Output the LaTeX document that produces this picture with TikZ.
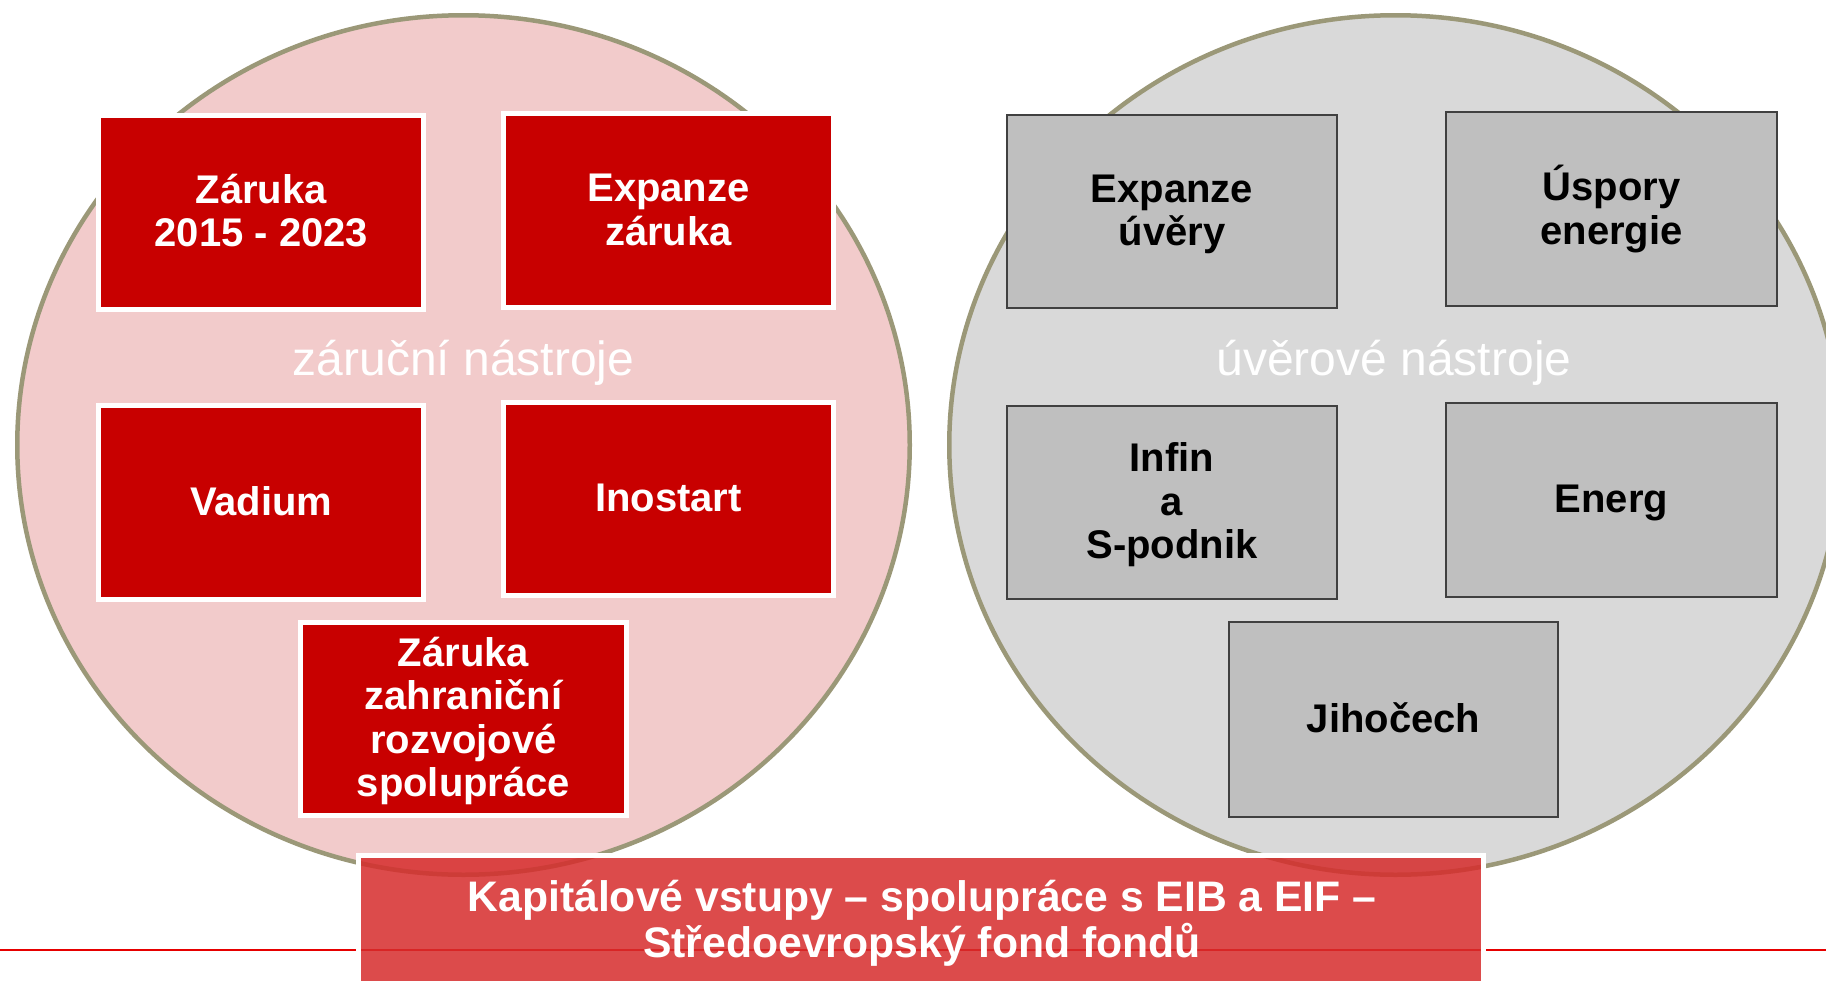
\documentclass[tikz,border=0pt]{standalone}
\usepackage{fontspec}
\setmainfont{Liberation Sans}
\usetikzlibrary{shapes.geometric}
\definecolor{circstroke}{RGB}{155,152,120}
\definecolor{pinkfill}{RGB}{242,203,203}
\definecolor{grayfill}{RGB}{217,217,217}
\definecolor{boxred}{RGB}{200,0,0}
\definecolor{boxgray}{RGB}{191,191,191}
\definecolor{boxedge}{RGB}{64,64,64}
\definecolor{barred}{RGB}{214,44,44}
\definecolor{linered}{RGB}{230,0,0}
\newcommand{\mystrut}{\rule[-0.2em]{0pt}{1.04em}}
\begin{document}
\begin{tikzpicture}[x=1pt,y=-1pt,
  groupcircle/.style={ellipse, draw=circstroke, line width=4.5pt, minimum width=892.5pt, minimum height=859.5pt, inner sep=0pt},
  redbox/.style={rectangle, draw=white, line width=5pt, fill=boxred, text=white, inner sep=0pt, align=center, font=\fontsize{40}{43.4}\selectfont\bfseries},
  graybox/.style={rectangle, draw=boxedge, line width=2.5pt, fill=boxgray, text=black, inner sep=0pt, align=center, font=\fontsize{40}{43.4}\selectfont\bfseries},
  grouplabel/.style={text=white, inner sep=0pt, anchor=base, font=\fontsize{48}{52}\selectfont},
  barbox/.style={rectangle, draw=white, line width=5pt, fill=barred, fill opacity=0.85, draw opacity=1, inner sep=0pt},
  bartext/.style={text=white, inner sep=0pt, align=center, font=\fontsize{42.7}{44.5}\selectfont\bfseries}
]
\useasboundingbox (0,0) rectangle (1826,980);
\clip (0,0) rectangle (1826,980);
\fill[white] (0,0) rectangle (1826,980);

% group circles
\node[groupcircle, fill=pinkfill] (leftcircle) at (463.5,445) {};
\node[groupcircle, fill=grayfill] (rightcircle) at (1395.5,445) {};

% group labels
\node[grouplabel] (leftlabel) at (463.5,375) {záruční nástroje};
\node[grouplabel] (rightlabel) at (1394,375) {úvěrové nástroje};

% guarantee instruments
\node[redbox, minimum width=325pt, minimum height=194pt] (zaruka) at (261.3,212.2) {\mystrut Záruka\\\mystrut 2015 - 2023};
\node[redbox, minimum width=330pt, minimum height=194pt] (expzaruka) at (668.5,210.5) {\mystrut Expanze\\\mystrut záruka};
\node[redbox, minimum width=325pt, minimum height=194pt] (vadium) at (261.3,502.5) {\mystrut Vadium};
\node[redbox, minimum width=330pt, minimum height=193pt] (inostart) at (668.5,499) {\mystrut Inostart};
\node[redbox, minimum width=326pt, minimum height=193pt] (zahranicni) at (463.5,719) {\mystrut Záruka\\\mystrut zahraniční\\\mystrut rozvojové\\\mystrut spolupráce};

% loan instruments
\node[graybox, minimum width=330pt, minimum height=193pt] (expuvery) at (1172,211.5) {\mystrut Expanze\\\mystrut úvěry};
\node[graybox, minimum width=331pt, minimum height=194pt] (uspory) at (1611.5,209) {\mystrut Úspory\\\mystrut energie};
\node[graybox, minimum width=330pt, minimum height=193pt] (infin) at (1172,502.5) {\mystrut Infin\\\mystrut a\\\mystrut S-podnik};
\node[graybox, minimum width=331pt, minimum height=194pt] (energ) at (1611.5,500) {\mystrut Energ};
\node[graybox, minimum width=329pt, minimum height=195pt] (jihocech) at (1393.5,719.5) {\mystrut Jihočech};

% red rule
\coordinate (ruleL) at (0,950);
\coordinate (ruleR) at (1826,950);
\draw[linered, line width=2.7pt] (ruleL) -- (ruleR);

% capital bar
\node[barbox, minimum width=1125pt, minimum height=170pt] (bar) at (921,940.5) {};
\node[bartext] (bartxt) at (922,921.3) {\mystrut Kapitálové vstupy – spolupráce s EIB a EIF –\\\mystrut Středoevropský fond fondů};
\end{tikzpicture}
\end{document}
